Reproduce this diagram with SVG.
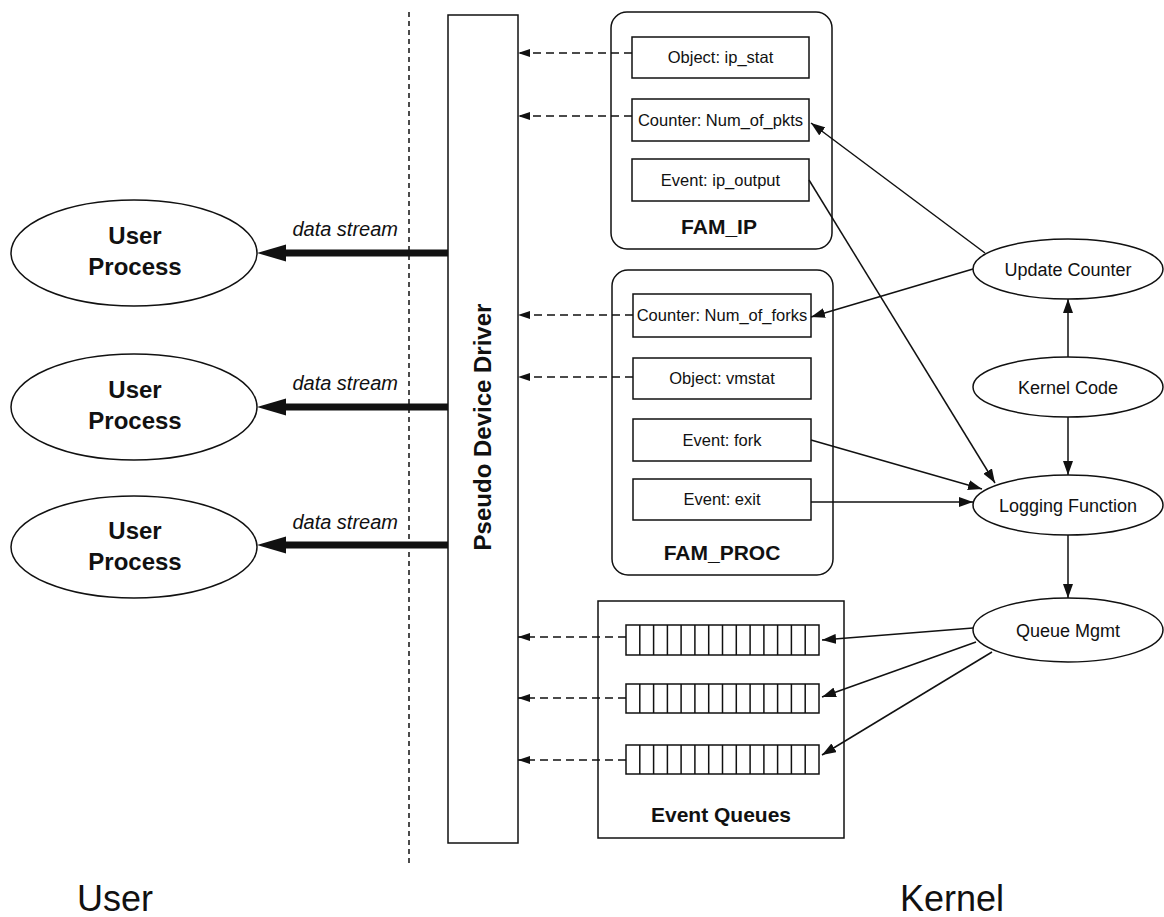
<svg xmlns="http://www.w3.org/2000/svg" width="1164" height="917" viewBox="0 0 1164 917">
<style>
.s{fill:none;stroke:#111;stroke-width:1.5}
.w{fill:#fff;stroke:#111;stroke-width:1.5}
.t{font-family:"Liberation Sans",Arial,sans-serif;fill:#111}
.box{font-size:16.5px;text-anchor:middle}
.lbl{font-size:21px;font-weight:bold;text-anchor:middle}
.el{font-size:18px;text-anchor:middle}
.up{font-size:24px;font-weight:bold;text-anchor:middle}
.ds{font-size:20px;font-style:italic;text-anchor:end}
.big{font-size:36px}
.dash{fill:none;stroke:#111;stroke-width:1.5;stroke-dasharray:8 5}
.ln{fill:none;stroke:#111;stroke-width:1.5}
.thick{fill:none;stroke:#111;stroke-width:7}
</style>
<defs>
<marker id="ah" markerUnits="userSpaceOnUse" markerWidth="14" markerHeight="10" viewBox="0 0 14 10" refX="14" refY="5" orient="auto"><path d="M0,0 L14,5 L0,10 z" fill="#111"/></marker>
<marker id="ahd" markerUnits="userSpaceOnUse" markerWidth="12" markerHeight="8" viewBox="0 0 12 8" refX="12" refY="4" orient="auto"><path d="M0,0 L12,4 L0,8 z" fill="#111"/></marker>
</defs>
<rect width="1164" height="917" fill="#fff"/>

<g id="boundary">
<line x1="409" y1="12" x2="409" y2="867" stroke="#111" stroke-width="1.5" stroke-dasharray="5 4"/>
<text class="t big" x="77" y="911">User</text>
<text class="t big" x="900" y="911">Kernel</text>
</g>

<g id="pseudo-driver">
<rect class="w" x="448" y="15" width="70" height="828"/>
<text class="t" transform="translate(491,427) rotate(-90)" text-anchor="middle" font-size="24" font-weight="bold">Pseudo Device Driver</text>
</g>

<g id="user-process-1">
<ellipse class="w" cx="134" cy="253" rx="123" ry="53"/>
<text class="t up" x="135" y="244">User</text>
<text class="t up" x="135" y="275">Process</text>
</g>
<g id="user-process-2">
<ellipse class="w" cx="134" cy="407" rx="123" ry="53"/>
<text class="t up" x="135" y="398">User</text>
<text class="t up" x="135" y="429">Process</text>
</g>
<g id="user-process-3">
<ellipse class="w" cx="134" cy="547" rx="123" ry="51"/>
<text class="t up" x="135" y="539">User</text>
<text class="t up" x="135" y="570">Process</text>
</g>

<g id="fam-ip">
<rect class="w" x="611" y="12" width="221" height="237" rx="16"/>
<rect class="w" x="632" y="37" width="177" height="41"/>
<text class="t box" x="720.5" y="63">Object: ip_stat</text>
<rect class="w" x="632" y="99" width="177" height="42"/>
<text class="t box" x="720.5" y="126">Counter: Num_of_pkts</text>
<rect class="w" x="632" y="159" width="177" height="42"/>
<text class="t box" x="720.5" y="186">Event: ip_output</text>
<text class="t lbl" x="719" y="234">FAM_IP</text>
</g>

<g id="fam-proc">
<rect class="w" x="612" y="270" width="221" height="305" rx="16"/>
<rect class="w" x="633" y="294" width="178" height="43"/>
<text class="t box" x="722" y="321">Counter: Num_of_forks</text>
<rect class="w" x="633" y="358" width="178" height="41"/>
<text class="t box" x="722" y="384">Object: vmstat</text>
<rect class="w" x="633" y="419" width="178" height="42"/>
<text class="t box" x="722" y="446">Event: fork</text>
<rect class="w" x="633" y="479" width="178" height="41"/>
<text class="t box" x="722" y="505">Event: exit</text>
<text class="t lbl" x="722" y="560">FAM_PROC</text>
</g>

<g id="event-queues">
<rect class="w" x="598" y="601" width="246" height="237"/>
<g id="queue-1">
<rect class="w" x="626" y="625" width="193" height="30"/>
<path class="s" d="M639.8,625v30M653.6,625v30M667.4,625v30M681.1,625v30M694.9,625v30M708.7,625v30M722.5,625v30M736.3,625v30M750.1,625v30M763.9,625v30M777.6,625v30M791.4,625v30M805.2,625v30"/>
</g>
<g id="queue-2">
<rect class="w" x="626" y="684" width="193" height="29"/>
<path class="s" d="M639.8,684v29M653.6,684v29M667.4,684v29M681.1,684v29M694.9,684v29M708.7,684v29M722.5,684v29M736.3,684v29M750.1,684v29M763.9,684v29M777.6,684v29M791.4,684v29M805.2,684v29"/>
</g>
<g id="queue-3">
<rect class="w" x="626" y="745" width="193" height="29"/>
<path class="s" d="M639.8,745v29M653.6,745v29M667.4,745v29M681.1,745v29M694.9,745v29M708.7,745v29M722.5,745v29M736.3,745v29M750.1,745v29M763.9,745v29M777.6,745v29M791.4,745v29M805.2,745v29"/>
</g>
<text class="t lbl" x="721" y="822">Event Queues</text>
</g>

<g id="update-counter">
<ellipse class="w" cx="1068" cy="269" rx="95" ry="30"/>
<text class="t el" x="1068" y="276">Update Counter</text>
</g>
<g id="kernel-code">
<ellipse class="w" cx="1068" cy="387" rx="95" ry="30"/>
<text class="t el" x="1068" y="394">Kernel Code</text>
</g>
<g id="logging-function">
<ellipse class="w" cx="1068" cy="505" rx="95" ry="30"/>
<text class="t el" x="1068" y="512">Logging Function</text>
</g>
<g id="queue-mgmt">
<ellipse class="w" cx="1068" cy="630" rx="95" ry="32"/>
<text class="t el" x="1068" y="637">Queue Mgmt</text>
</g>

<g id="connectors">
<!-- data streams -->
<line class="thick" x1="448" y1="253" x2="284" y2="253"/>
<polygon points="257,253 286,244.5 286,261.5" fill="#111"/>
<text class="t ds" x="398" y="236">data stream</text>
<line class="thick" x1="448" y1="407" x2="284" y2="407"/>
<polygon points="257,407 286,398.5 286,415.5" fill="#111"/>
<text class="t ds" x="398" y="390">data stream</text>
<line class="thick" x1="448" y1="545" x2="284" y2="545"/>
<polygon points="257,545 286,536.5 286,553.5" fill="#111"/>
<text class="t ds" x="398" y="529">data stream</text>

<!-- dashed reads into driver -->
<line class="dash" x1="632" y1="53" x2="518" y2="53" marker-end="url(#ahd)"/>
<line class="dash" x1="632" y1="116" x2="518" y2="116" marker-end="url(#ahd)"/>
<line class="dash" x1="633" y1="315" x2="518" y2="315" marker-end="url(#ahd)"/>
<line class="dash" x1="633" y1="377" x2="518" y2="377" marker-end="url(#ahd)"/>
<line class="dash" x1="626" y1="637" x2="518" y2="637" marker-end="url(#ahd)"/>
<line class="dash" x1="626" y1="698" x2="518" y2="698" marker-end="url(#ahd)"/>
<line class="dash" x1="626" y1="760" x2="518" y2="760" marker-end="url(#ahd)"/>

<!-- update counter -->
<line class="ln" x1="985" y1="253" x2="811" y2="123" marker-end="url(#ah)"/>
<line class="ln" x1="973" y1="269" x2="811" y2="317" marker-end="url(#ah)"/>
<line class="ln" x1="1068" y1="357" x2="1068" y2="299" marker-end="url(#ah)"/>

<!-- logging -->
<line class="ln" x1="1068" y1="417" x2="1068" y2="475" marker-end="url(#ah)"/>
<line class="ln" x1="809" y1="180" x2="995" y2="483" marker-end="url(#ah)"/>
<line class="ln" x1="811" y1="440" x2="982" y2="489" marker-end="url(#ah)"/>
<line class="ln" x1="811" y1="502" x2="973" y2="502" marker-end="url(#ah)"/>
<line class="ln" x1="1068" y1="535" x2="1068" y2="598" marker-end="url(#ah)"/>

<!-- queue mgmt -->
<line class="ln" x1="973" y1="628" x2="822" y2="640" marker-end="url(#ah)"/>
<line class="ln" x1="976" y1="642" x2="822" y2="697" marker-end="url(#ah)"/>
<line class="ln" x1="992" y1="652" x2="822" y2="755" marker-end="url(#ah)"/>
</g>
</svg>
